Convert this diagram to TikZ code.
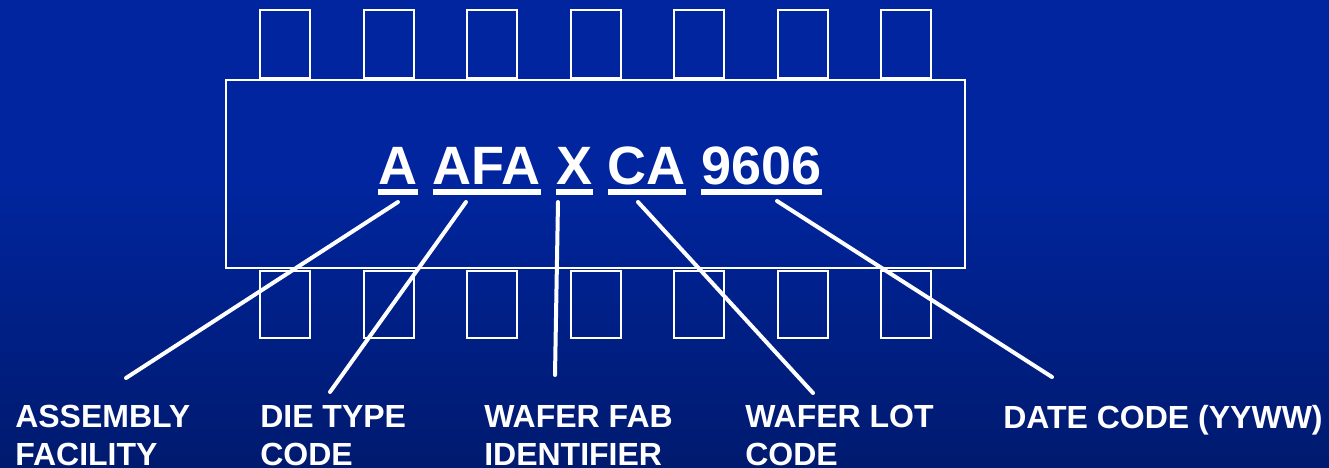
\documentclass[tikz,border=0pt]{standalone}
\usepackage{fontspec}
\setmainfont{Liberation Sans}
\usetikzlibrary{positioning}
\definecolor{bgtop}{RGB}{0,37,158}
\definecolor{bgbot}{RGB}{0,26,110}
\tikzset{pin box/.style={draw=white,line width=1.5pt}}
\tikzset{code part/.style={text=white,inner sep=0pt,font=\fontsize{40.5}{48}\selectfont\bfseries}}
\tikzset{code label/.style={text=white,inner sep=0pt,align=left,anchor=north west,font=\fontsize{24}{28.5}\selectfont\bfseries}}
\tikzset{leader/.style={draw=white,line width=3pt,line cap=round}}
\tikzset{uline/.style={draw=white,line width=4.5pt}}

\begin{document}
\begin{tikzpicture}[x=0.75pt,y=-0.75pt]
    \useasboundingbox (0,0) rectangle (1329,468);
    \fill[bgtop] (0,0) rectangle (1329,181);
    \shade[top color=bgtop,bottom color=bgbot] (0,180) rectangle (1329,468);

    % chip body and pins
    \draw[pin box] (226,80) rectangle (965,268);
    \foreach \i in {0,...,6} {
        \draw[pin box] (260+103.5*\i,10) rectangle +(50,68);
        \draw[pin box] (260+103.5*\i,271) rectangle +(50,67);
    }

    % marking code
    \node[code part,anchor=base west] (c_{A}) at (378,184) {A};
    \node[code part] (c_{AFA}) [base right = 11.25pt of c_{A}] {AFA};
    \node[code part] (c_{X}) [base right = 11.25pt of c_{AFA}] {X};
    \node[code part] (c_{CA}) [base right = 11.25pt of c_{X}] {CA};
    \node[code part] (c_{9606}) [base right = 11.25pt of c_{CA}] {9606};
    \foreach \p in {A,AFA,X,CA,9606}
        \draw[uline] ([yshift=-6pt]c_{\p}.base west) -- ([yshift=-6pt]c_{\p}.base east);

    % labels
    \node[code label] (l_{asm}) at (15,405) {ASSEMBLY\\FACILITY};
    \node[code label] (l_{die}) at (260,405) {DIE TYPE\\CODE};
    \node[code label] (l_{fab}) at (484,405) {WAFER FAB\\IDENTIFIER};
    \node[code label] (l_{lot}) at (745,405) {WAFER LOT\\CODE};
    \node[code label] (l_{date}) at (1003,405) {DATE CODE (YYWW)};

    % leader lines
    \coordinate (s_{A}) at (398,202);
    \coordinate (s_{AFA}) at (466,202);
    \coordinate (s_{X}) at (558,202);
    \coordinate (s_{CA}) at (638,202);
    \coordinate (s_{9606}) at (777,201);
    \coordinate (e_{asm}) at (126,378);
    \coordinate (e_{die}) at (330,392);
    \coordinate (e_{fab}) at (555,375);
    \coordinate (e_{lot}) at (813,393);
    \coordinate (e_{date}) at (1052,377);
    \path[leader]
    (s_{A}) edge (e_{asm})
    (s_{AFA}) edge (e_{die})
    (s_{X}) edge (e_{fab})
    (s_{CA}) edge (e_{lot})
    (s_{9606}) edge (e_{date});
\end{tikzpicture}
\end{document}
